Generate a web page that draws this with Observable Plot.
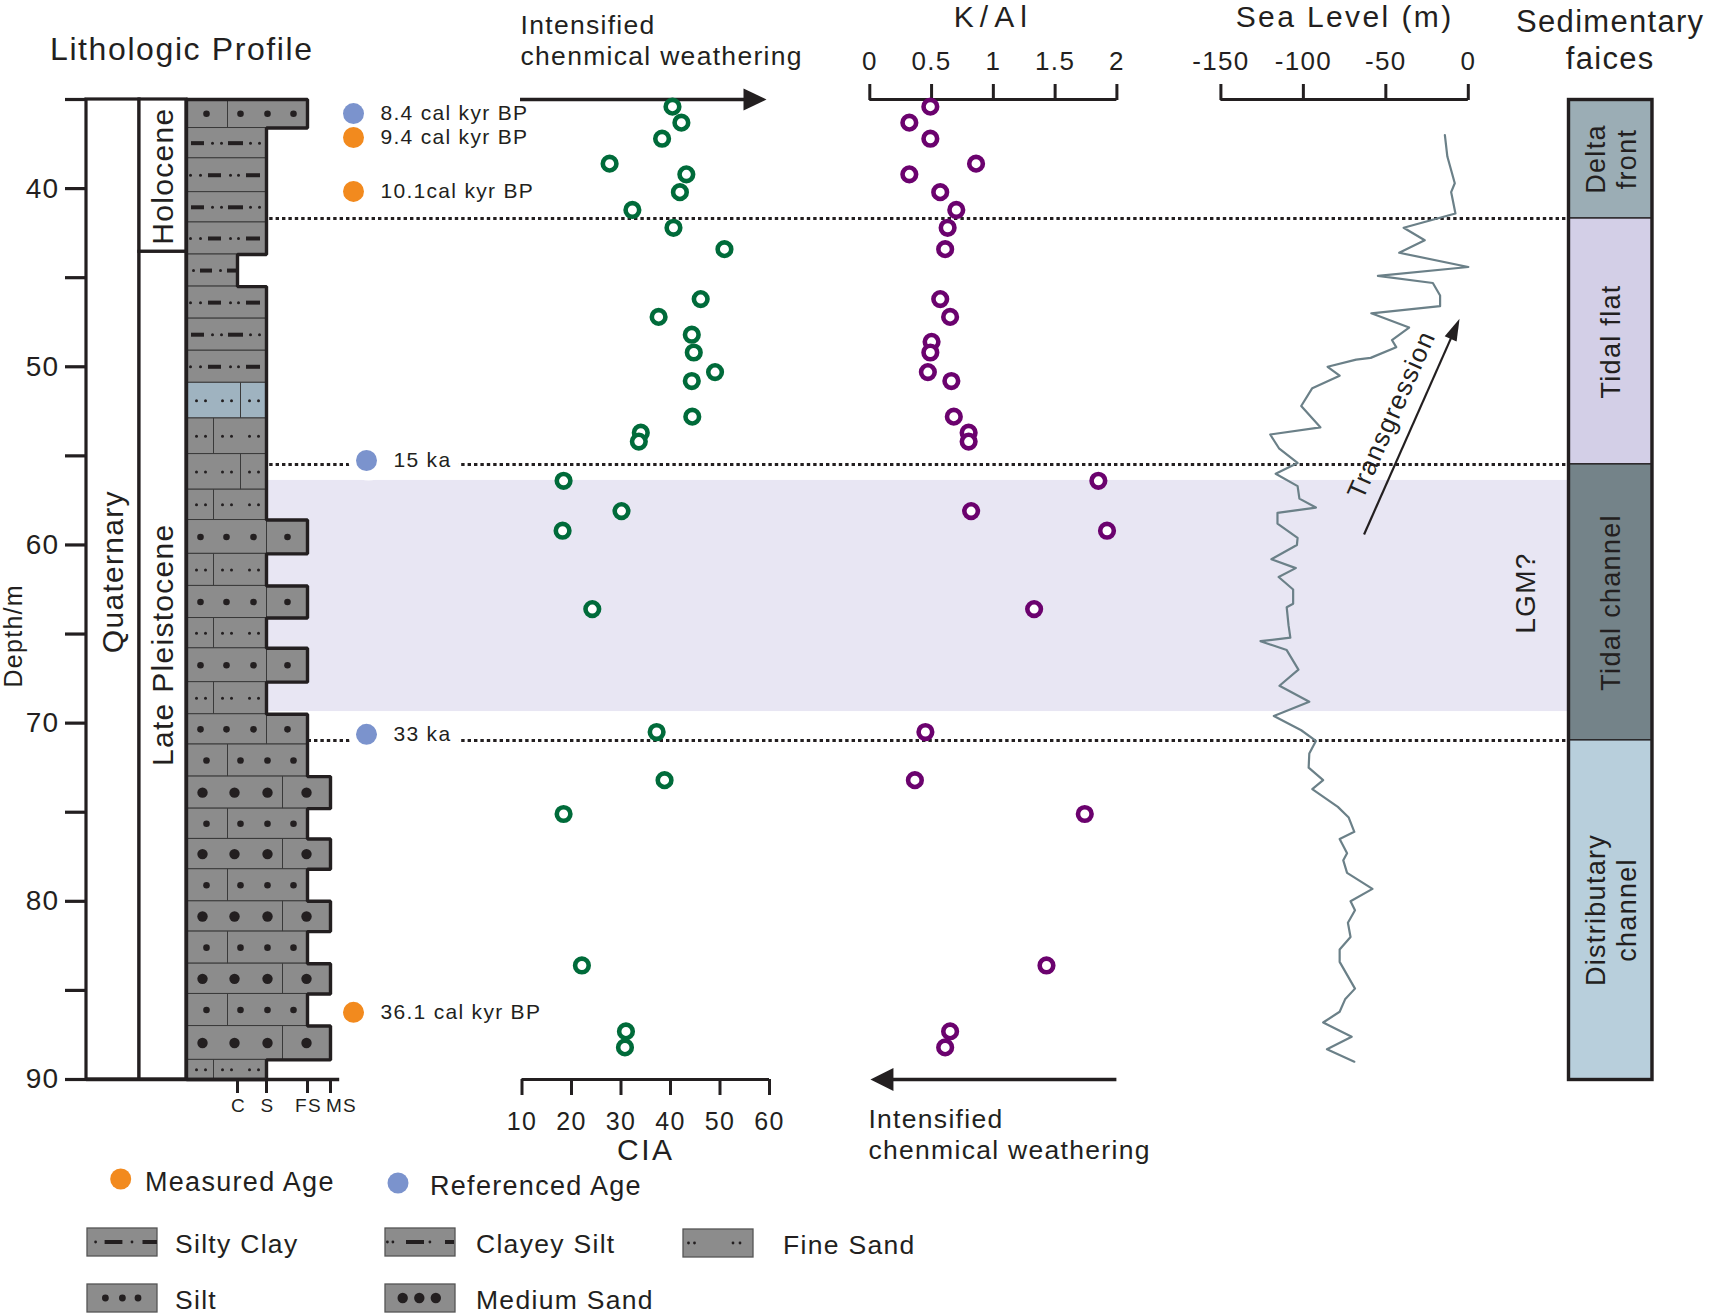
<!DOCTYPE html>
<html>
<head>
<meta charset="utf-8">
<script src="https://cdn.jsdelivr.net/npm/d3@7"></script>
<script src="https://cdn.jsdelivr.net/npm/@observablehq/plot@0.6"></script>
<style>
  html, body { margin: 0; padding: 0; background: #ffffff; }
  #root { position: relative; width: 1713px; height: 1314px; overflow: hidden; background: #ffffff; }
  #root svg { position: absolute; left: 0; top: 0; overflow: visible; max-width: none; }
  #root text { letter-spacing: 1.3px; }
</style>
</head>
<body>
<div id="root"></div>
<script>
// ======================= DATA =======================
const depthTicks = [35, 40, 45, 50, 55, 60, 65, 70, 75, 80, 85, 90];
const grainTicks = ["C", "S", "FS", "MS"];
const ciaTicks = [10, 20, 30, 40, 50, 60];
const kalTicks = [0, 0.5, 1, 1.5, 2];
const seaTicks = [-150, -100, -50, 0];

// stratigraphy
const systemName = ["Quaternary"];
const systemTop = [35];
const systemBottom = [90];
const systemLabelDepth = [61.5];
const epochName = ["Holocene", "Late Pleistocene"];
const epochTop = [35, 43.55];
const epochBottom = [43.55, 90];
const epochLabelDepth = [39.3, 65.6];

// lithologic layers
const layerTop = [35.0,36.6,38.3,40.2,41.9,43.7,45.5,47.3,49.1,50.9,52.9,54.9,56.9,58.6,60.5,62.3,64.1,65.8,67.7,69.5,71.2,73.0,74.8,76.5,78.2,80.0,81.7,83.5,85.2,87.0,88.9];
const layerBottom = [36.6,38.3,40.2,41.9,43.7,45.5,47.3,49.1,50.9,52.9,54.9,56.9,58.6,60.5,62.3,64.1,65.8,67.7,69.5,71.2,73.0,74.8,76.5,78.2,80.0,81.7,83.5,85.2,87.0,88.9,90.0];
const layerLith = ["Silt","Clayey Silt","Clayey Silt","Clayey Silt","Clayey Silt","Silty Clay","Clayey Silt","Clayey Silt","Clayey Silt",
  "Fine Sand","Fine Sand","Fine Sand","Fine Sand","Silt","Fine Sand","Silt","Fine Sand","Silt","Fine Sand","Silt",
  "Silt","Medium Sand","Silt","Medium Sand","Silt","Medium Sand","Silt","Medium Sand","Silt","Medium Sand","Fine Sand"];
const layerGrain = ["FS","S","S","S","S","C","S","S","S","S","S","S","S","FS","S","FS","S","FS","S","FS","FS","MS","FS","MS","FS","MS","FS","MS","FS","MS","S"];
const layerVariant = ["A","A","B","A","B","","B","A","B","A","B","A","B","B","B","B","B","B","B","B","A","","A","","A","","A","","A","","B"];
const layerTint = ["grey","grey","grey","grey","grey","grey","grey","grey","grey","blue","grey","grey","grey","grey","grey","grey","grey","grey","grey","grey",
  "grey","grey","grey","grey","grey","grey","grey","grey","grey","grey","grey"];

// ages
const ageDepth = [35.79, 37.13, 40.16, 55.26, 70.63, 86.23];
const ageLabel = ["8.4 cal kyr BP", "9.4 cal kyr BP", "10.1cal kyr BP", "15 ka", "33 ka", "36.1 cal kyr BP"];
const ageType = ["Referenced", "Measured", "Measured", "Referenced", "Referenced", "Measured"];

// unit boundaries (dotted) and LGM band
const unitBoundaries = [41.68, 55.48, 70.97];
const lgmBand = [56.38, 69.35];

// CIA
const ciaDepth = [35.4,36.3,37.2,38.6,39.2,40.2,41.2,42.2,43.4,46.2,47.2,48.2,49.2,50.3,50.8,52.8,53.7,54.2,56.4,58.1,59.2,63.6,70.5,73.2,75.1,83.6,87.3,88.2];
const ciaValue = [40.4,42.2,38.3,27.7,43.2,41.9,32.3,40.6,50.9,46.1,37.6,44.3,44.7,49.0,44.3,44.4,34.0,33.6,18.4,30.1,18.2,24.2,37.2,38.8,18.4,22.1,31.0,30.8];

// K/Al
const kalDepth = [35.4,36.3,37.2,38.6,39.2,40.2,41.2,42.2,43.4,46.2,47.2,48.6,49.2,50.3,50.8,52.8,53.7,54.2,56.4,58.1,59.2,63.6,70.5,73.2,75.1,83.6,87.3,88.2];
const kalValue = [0.49,0.32,0.49,0.86,0.32,0.57,0.70,0.63,0.61,0.57,0.65,0.50,0.49,0.47,0.66,0.68,0.80,0.80,1.85,0.82,1.92,1.33,0.45,0.365,1.74,1.43,0.65,0.61];

// Sea level
const seaDepth = [37.0,38.2,39.7,40.2,40.7,41.4,42.2,42.9,43.6,44.4,44.9,45.3,46.0,46.6,47.0,47.8,48.5,48.9,49.5,49.6,50.0,50.5,51.2,52.2,53.4,53.8,54.6,55.4,56.0,56.7,57.4,57.9,58.2,58.8,59.6,60.0,60.8,61.3,61.8,62.5,63.3,63.5,64.5,65.2,65.4,65.9,67.0,67.9,68.8,69.6,70.4,71.0,71.7,72.5,73.2,73.7,74.7,75.3,76.1,76.5,77.3,77.7,78.4,79.3,80.0,80.5,81.2,82.0,82.7,83.4,84.9,85.5,86.2,86.8,87.6,88.3,89.0];
const seaLevel = [-14.2,-12.7,-8.2,-10.4,-9.3,-7.8,-39.2,-26.4,-41.9,0,-54.8,-21.5,-17.1,-17.1,-58.8,-35.9,-46.3,-43.7,-59.2,-68.0,-85.3,-78.0,-94.6,-101.3,-89.7,-120.1,-114.6,-103.5,-116.8,-103.5,-102.4,-92.4,-115.7,-115.7,-103.5,-103.9,-119.4,-104.6,-115.0,-106.2,-106.2,-110.1,-109.0,-107.9,-126.0,-110.1,-103.0,-114.5,-96.4,-117.9,-101.3,-92.4,-96.4,-96.8,-88.0,-94.6,-79.1,-72.5,-69.1,-78.0,-73.5,-75.8,-73.5,-58.1,-71.4,-68.7,-73.0,-71.4,-78.0,-78.0,-68.7,-74.7,-78.0,-88.0,-70.7,-85.7,-69.1];

// Sedimentary facies
const faciesName = ["Delta front", "Tidal flat", "Tidal channel", "Distributary channel"];
const faciesLabel = ["Delta\nfront", "Tidal flat", "Tidal channel", "Distributary\nchannel"];
const faciesTop = [35, 41.68, 55.48, 70.97];
const faciesBottom = [41.68, 55.48, 70.97, 90];

// annotations (data units of their panel)
const weatheringText = "Intensified\nchenmical weathering";
const ciaArrow = [{from: 9.7, to: 59.4, depth: 35, label: weatheringText}];
const kalArrow = [{from: 2.0, to: 0.005, depth: 90, label: weatheringText}];
const transArrow = {x1: -63.2, y1: 59.41, x2: -5.3, y2: 47.31, label: "Transgression", lx: -46.5, ly: 52.7};
const lgmLabel = {text: "LGM?", depth: 62.7};
const depthLabel = {text: "Depth/m", depth: 65.1};

// ======================= STYLE =======================
const root = document.getElementById("root");
const ink = "#231f20";
const W = 1713, H = 1314;
const FONT = "'Liberation Sans', Arial, Helvetica, sans-serif";
const yOpt = {domain: [35, 90], range: [99, 1079]};
const colors = {
  litho: {grey: "#8c8c8c", blue: "#9fb3c0"},
  age: {Measured: "#f28a1e", Referenced: "#7b93cd"},
  facies: {"Delta front": "#9badb5", "Tidal flat": "#d3cfe7", "Tidal channel": "#748389", "Distributary channel": "#b8cfdc"},
  cia: "#006b3a", kal: "#6b026e", sea: "#6b8088", band: "#e8e6f3", seam: "#3a3a3a"
};
const gsValue = {C: 1, S: 2, FS: 3, MS: 4};
// column layout of the profile panel: unit index -> column width units
// (-2..-1 system column, -1..0 epoch column, 0..4 grain-size classes C, S, FS, MS)
const litLayout = d3.scaleLinear().domain([-2, -1, 0, 1, 2, 3, 4]).range([0, 53, 100, 151, 180, 221, 244]);
const litRange = [86, 330];
// lithology texture templates: pixel offsets from the column's left edge
const textures = {
  "Silt-A": {dividers: [41], small: [20, 54, 81, 107]},
  "Silt-B": {dividers: [80], small: [14, 40, 67, 101]},
  "Medium Sand": {dividers: [96], large: [16, 48, 81, 120]},
  "Fine Sand-A": {dividers: [54], tiny: [10, 19, 36, 45, 63, 72]},
  "Fine Sand-B": {dividers: [27], tiny: [10, 19, 36, 45, 63, 72]},
  "Clayey Silt-A": {dashes: [[5, 18], [42, 57]], tiny: [26, 35, 64, 73]},
  "Clayey Silt-B": {dashes: [[22, 35], [60, 74]], tiny: [4, 14, 44, 52]},
  "Silty Clay": {dashes: [[14, 26], [41, 51]], tiny: [7, 34]}
};

const headSymbol = (L, Wd) => ({draw(ctx) { ctx.moveTo(0, 0); ctx.lineTo(Wd / 2, L); ctx.lineTo(-Wd / 2, L); ctx.closePath(); }});

function mount(opts, spacing) {
  const svg = Plot.plot(Object.assign({
    width: W, height: H, marginTop: 99, marginBottom: 235,
    y: {...yOpt, axis: null},
    color: {type: "identity"},
    style: {fontFamily: FONT, color: ink, background: "transparent", overflow: "visible"}
  }, opts));
  svg.style.position = "absolute"; svg.style.left = "0px"; svg.style.top = "0px"; svg.style.maxWidth = "none";
  root.appendChild(svg);
  if (spacing) d3.select(svg).selectAll("text").each(function() {
    const s = spacing[this.textContent.replace(/\s+/g, " ").trim()];
    if (s !== undefined) this.style.letterSpacing = s + "px";
  });
  return svg;
}

// ======================= TABLES =======================
const layers = layerTop.map((t, i) => ({top: t, bottom: layerBottom[i], lith: layerLith[i], grain: layerGrain[i], variant: layerVariant[i], tint: layerTint[i]}));
const ages = ageDepth.map((d, i) => ({depth: d, label: ageLabel[i], type: ageType[i]}));
ages.forEach(a => a.onLine = unitBoundaries.some(b => Math.abs(b - a.depth) < 0.5));
const ciaPts = ciaDepth.map((d, i) => ({d, v: ciaValue[i]}));
const kalPts = kalDepth.map((d, i) => ({d, v: kalValue[i]}));
const seaPts = seaDepth.map((d, i) => ({d, v: seaLevel[i]}));
const facies = faciesName.map((n, i) => ({name: n, label: faciesLabel[i], top: faciesTop[i], bottom: faciesBottom[i]}));
const systems = systemName.map((n, i) => ({name: n, top: systemTop[i], bottom: systemBottom[i], label: systemLabelDepth[i]}));
const epochs = epochName.map((n, i) => ({name: n, top: epochTop[i], bottom: epochBottom[i], label: epochLabelDepth[i]}));

// ======================= PANEL: background (band, dotted boundaries, ages) =======================
mount({
  marginLeft: 186, marginRight: W - 1568,
  marks: [
    Plot.rect([lgmBand], {y1: d => d[0], y2: d => d[1], fill: colors.band}),
    Plot.ruleY(unitBoundaries, {stroke: ink, strokeWidth: 3, strokeDasharray: "3.4 3"}),
    Plot.text([lgmLabel], {frameAnchor: "right", y: "depth", text: "text", dx: -42, rotate: -90, textAnchor: "middle", lineAnchor: "middle", fontSize: 28, fill: ink}),
    Plot.dot(ages.filter(a => a.onLine), {y: "depth", frameAnchor: "left", dx: 182, r: 20, fill: "white"}),
    Plot.dot(ages.filter(a => a.onLine), {y: "depth", frameAnchor: "left", dx: 180, r: 10.5, fill: d => colors.age[d.type]}),
    Plot.dot(ages.filter(a => !a.onLine), {y: "depth", frameAnchor: "left", dx: 167, r: 10.5, fill: d => colors.age[d.type]}),
    Plot.text(ages.filter(a => a.onLine), {y: "depth", frameAnchor: "left", dx: 207, text: "label", textAnchor: "start", lineAnchor: "middle", fontSize: 21, fill: ink, stroke: "white", strokeWidth: 18, paintOrder: "stroke", strokeLinejoin: "round"}),
    Plot.text(ages.filter(a => !a.onLine), {y: "depth", frameAnchor: "left", dx: 194, text: "label", textAnchor: "start", lineAnchor: "middle", fontSize: 21, fill: ink})
  ]
});

// ======================= PANEL: lithologic profile =======================
const xMirror = d3.scaleLinear().domain([0, 244]).range(litRange);
const x0px = xMirror(litLayout(0));
const tx = off => litLayout.invert(xMirror.invert(x0px + off));   // texture offset -> unit index

const dividers = [], dashes = [], dotsTiny = [], dotsSmall = [], dotsLarge = [];
layers.forEach(l => {
  const tpl = textures[l.variant ? `${l.lith}-${l.variant}` : l.lith];
  const mid = (l.top + l.bottom) / 2;
  (tpl.dividers || []).forEach(o => dividers.push({x: tx(o), y1: l.top, y2: l.bottom}));
  (tpl.dashes || []).forEach(([a, b]) => dashes.push({x1: tx(a), x2: tx(b), y: mid}));
  (tpl.tiny || []).forEach(o => dotsTiny.push({x: tx(o), y: mid}));
  (tpl.small || []).forEach(o => dotsSmall.push({x: tx(o), y: mid}));
  (tpl.large || []).forEach(o => dotsLarge.push({x: tx(o), y: mid}));
});
const outline = [{x: 0, y: layers[0].top}];
layers.forEach(l => { outline.push({x: gsValue[l.grain], y: l.top}, {x: gsValue[l.grain], y: l.bottom}); });
outline.push({x: 0, y: 90}, {x: 0, y: layers[0].top});

mount({
  marginLeft: 86, marginRight: W - 330,
  x: {domain: [0, 244], range: litRange, transform: litLayout, axis: null},
  marks: [
    Plot.rect(systems, {x1: -2, x2: -1, y1: "top", y2: "bottom", fill: "white", stroke: ink, strokeWidth: 3.2}),
    Plot.rect(epochs, {x1: -1, x2: 0, y1: "top", y2: "bottom", fill: "white", stroke: ink, strokeWidth: 3.2}),
    Plot.text(systems, {x: -1.5, y: "label", text: "name", rotate: -90, fontSize: 30, fill: ink}),
    Plot.text(epochs, {x: -0.5, y: "label", text: "name", rotate: -90, fontSize: 30, fill: ink}),
    Plot.rect(layers, {x1: 0, x2: d => gsValue[d.grain], y1: "top", y2: "bottom", fill: d => colors.litho[d.tint], stroke: colors.seam, strokeWidth: 1}),
    Plot.ruleX(dividers, {x: "x", y1: "y1", y2: "y2", stroke: colors.seam, strokeWidth: 1}),
    Plot.ruleY(dashes, {x1: "x1", x2: "x2", y: "y", stroke: ink, strokeWidth: 4}),
    Plot.dot(dotsTiny, {x: "x", y: "y", r: 1.5, fill: ink, stroke: "none"}),
    Plot.dot(dotsSmall, {x: "x", y: "y", r: 3.3, fill: ink, stroke: "none"}),
    Plot.dot(dotsLarge, {x: "x", y: "y", r: 5.2, fill: ink, stroke: "none"}),
    Plot.line(outline, {x: "x", y: "y", stroke: ink, strokeWidth: 3.4, strokeLinejoin: "miter"}),
    Plot.ruleY([90], {x1: -2, x2: 4.4, stroke: ink, strokeWidth: 3.4}),
    Plot.axisY({anchor: "left", ticks: depthTicks, tickSize: 21, tickPadding: 6, strokeWidth: 3.2, fontSize: 28,
      tickFormat: d => d % 10 === 0 ? String(d) : "", label: null}),
    // axis ticks are given in the scale's (transformed) column units
    Plot.axisX({anchor: "bottom", ticks: grainTicks.map(g => litLayout(gsValue[g])), tickSize: 14, strokeWidth: 3, tickFormat: () => "", label: null}),
    Plot.text(grainTicks.filter(g => g !== "MS"), {x: g => gsValue[g], text: g => g, frameAnchor: "bottom", lineAnchor: "middle", dy: 26, dx: 1, fontSize: 19, fill: ink}),
    Plot.text(grainTicks.filter(g => g === "MS"), {x: g => gsValue[g], text: g => g, frameAnchor: "bottom", lineAnchor: "middle", dy: 26, dx: 11, fontSize: 19, fill: ink}),
    Plot.text([depthLabel], {frameAnchor: "left", y: "depth", text: "text", dx: -73, rotate: -90, textAnchor: "middle", lineAnchor: "middle", fontSize: 25, fill: ink}),
    Plot.text(["Lithologic Profile"], {x: -0.1, frameAnchor: "top", lineAnchor: "middle", dy: -50, fontSize: 32, fill: ink})
  ]
}, {"Lithologic Profile": 1.6});

// ======================= PANEL: CIA =======================
mount({
  marginLeft: 521.5, marginRight: W - 769,
  x: {domain: [10, 60], range: [521.5, 769], axis: null},
  marks: [
    Plot.ruleY([90], {stroke: ink, strokeWidth: 3.2}),
    Plot.axisX({anchor: "bottom", ticks: ciaTicks, tickSize: 16, tickPadding: 17, strokeWidth: 3, fontSize: 25, tickFormat: d => String(d), label: null}),
    Plot.text(["CIA"], {frameAnchor: "bottom", lineAnchor: "middle", dy: 71, fontSize: 30, fill: ink}),
    Plot.ruleY(ciaArrow, {y: "depth", x1: "from", x2: d => d.to - 3, stroke: ink, strokeWidth: 3.6}),
    Plot.dot(ciaArrow, {x: "to", y: "depth", symbol: headSymbol(23, 22), rotate: 90, fill: ink, stroke: "none"}),
    Plot.text(ciaArrow, {x: "from", y: "depth", text: "label", textAnchor: "start", lineAnchor: "middle", dy: -60, fontSize: 26.5, lineHeight: 1.19, fill: ink}),
    Plot.dot(ciaPts, {x: "v", y: "d", r: 6.8, stroke: colors.cia, strokeWidth: 4.6, fill: "white"})
  ]
}, {"CIA": 2.5, "Intensified chenmical weathering": 1.8});

// ======================= PANEL: K/Al =======================
mount({
  marginLeft: 869.3, marginRight: W - 1116.4,
  x: {domain: [0, 2], range: [869.3, 1116.4], axis: null},
  marks: [
    Plot.ruleY([35], {stroke: ink, strokeWidth: 3.2}),
    Plot.axisX({anchor: "top", ticks: kalTicks, tickSize: 16, tickPadding: 14, strokeWidth: 3, fontSize: 26, tickFormat: d => String(d), label: null}),
    Plot.text(["K/Al"], {frameAnchor: "top", lineAnchor: "middle", dy: -82, fontSize: 30, fill: ink}),
    Plot.ruleY(kalArrow, {y: "depth", x1: "from", x2: d => d.to + 0.12, stroke: ink, strokeWidth: 3.6}),
    Plot.dot(kalArrow, {x: "to", y: "depth", symbol: headSymbol(23, 23), rotate: -90, fill: ink, stroke: "none"}),
    Plot.text(kalArrow, {x: "to", y: "depth", text: "label", textAnchor: "start", lineAnchor: "middle", dx: -2, dy: 54, fontSize: 26.5, lineHeight: 1.19, fill: ink}),
    Plot.dot(kalPts, {x: "v", y: "d", r: 6.8, stroke: colors.kal, strokeWidth: 4.6, fill: "white"})
  ]
}, {"K/Al": 6, "Intensified chenmical weathering": 1.8});

// ======================= PANEL: Sea level =======================
const seaX = {domain: [-150, 0], range: [1220.4, 1467.8]};
const sx = d3.scaleLinear().domain(seaX.domain).range(seaX.range);   // mirror of the panel's scales
const sy = d3.scaleLinear().domain(yOpt.domain).range(yOpt.range);
const pdx = sx(transArrow.x2) - sx(transArrow.x1);
const pdy = sy(transArrow.y2) - sy(transArrow.y1);
const plen = Math.hypot(pdx, pdy);
const headAngle = Math.atan2(pdx, -pdy) * 180 / Math.PI;
const textAngle = Math.atan2(pdy, pdx) * 180 / Math.PI;
const transShaft = [{
  x1: transArrow.x1, y1: transArrow.y1,
  x2: sx.invert(sx(transArrow.x2) - pdx / plen * 14),
  y2: sy.invert(sy(transArrow.y2) - pdy / plen * 14)
}];
mount({
  marginLeft: 1220.4, marginRight: W - 1467.8,
  x: {...seaX, axis: null},
  marks: [
    Plot.ruleY([35], {stroke: ink, strokeWidth: 3.2}),
    Plot.axisX({anchor: "top", ticks: seaTicks, tickSize: 16, tickPadding: 14, strokeWidth: 3, fontSize: 26, tickFormat: d => String(d), label: null}),
    Plot.text(["Sea Level (m)"], {frameAnchor: "top", lineAnchor: "middle", dy: -82, fontSize: 30, fill: ink}),
    Plot.line(seaPts, {x: "v", y: "d", stroke: colors.sea, strokeWidth: 2.2}),
    Plot.link(transShaft, {x1: "x1", y1: "y1", x2: "x2", y2: "y2", stroke: ink, strokeWidth: 2.2}),
    Plot.dot([transArrow], {x: "x2", y: "y2", symbol: headSymbol(22, 13), rotate: headAngle, fill: ink, stroke: "none"}),
    Plot.text([transArrow], {x: "lx", y: "ly", text: "label", rotate: textAngle, fontSize: 26, fill: ink})
  ]
}, {"Sea Level (m)": 2.4});

// ======================= PANEL: Sedimentary facies =======================
mount({
  marginLeft: 1568, marginRight: W - 1651.5,
  x: {domain: [0, 1], range: [1568, 1651.5], axis: null},
  marks: [
    Plot.rect(facies, {x1: 0, x2: 1, y1: "top", y2: "bottom", fill: d => colors.facies[d.name], stroke: ink, strokeWidth: 1.3}),
    Plot.frame({stroke: ink, strokeWidth: 3.4}),
    Plot.text(facies, {x: 0.5, y: d => (d.top + d.bottom) / 2, text: "label", rotate: -90, fontSize: 27, lineHeight: 1.15, fill: ink}),
    Plot.text(["Sedimentary\nfaices"], {frameAnchor: "top", lineAnchor: "middle", dy: -61, fontSize: 31, lineHeight: 1.2, fill: ink})
  ]
}, {"Sedimentary faices": 2.2});

// ======================= LEGEND =======================
const leg = d3.select(root).append("svg").attr("width", W).attr("height", H).style("font-family", FONT);
const ageLegend = [
  {type: "Measured", label: "Measured Age", cx: 120.7, cy: 1179, tx: 145},
  {type: "Referenced", label: "Referenced Age", cx: 398, cy: 1183, tx: 430}
];
ageLegend.forEach(a => {
  leg.append("circle").attr("cx", a.cx).attr("cy", a.cy).attr("r", 10.5).attr("fill", colors.age[a.type]);
  leg.append("text").attr("x", a.tx).attr("y", a.cy + 3).attr("dominant-baseline", "central").attr("font-size", 27).attr("fill", ink).text(a.label);
});
const swatchGlyphs = {
  "Silty Clay": {tiny: [8.6, 45], dashes: [[17.6, 35.4], [55.5, 70]]},
  "Clayey Silt": {tiny: [2.4, 7.9, 44.9], dashes: [[21, 39], [60, 69]]},
  "Fine Sand": {tiny: [5.5, 11.5, 50, 57]},
  "Silt": {small: [18.4, 35.4, 51]},
  "Medium Sand": {large: [17.7, 34.3, 50.8]}
};
const lithLegend = [
  {name: "Silty Clay", x: 87, y: 1228, tx: 175},
  {name: "Clayey Silt", x: 385, y: 1228, tx: 476},
  {name: "Fine Sand", x: 683, y: 1229, tx: 783},
  {name: "Silt", x: 87, y: 1284, tx: 175},
  {name: "Medium Sand", x: 385, y: 1284, tx: 476}
];
lithLegend.forEach(it => {
  const g = leg.append("g").attr("transform", `translate(${it.x},${it.y})`);
  g.append("rect").attr("width", 70).attr("height", 28).attr("fill", colors.litho.grey).attr("stroke", "#555").attr("stroke-width", 1.3);
  const sg = swatchGlyphs[it.name];
  (sg.dashes || []).forEach(([a, b]) => g.append("line").attr("x1", a).attr("x2", b).attr("y1", 14).attr("y2", 14).attr("stroke", ink).attr("stroke-width", 4));
  (sg.tiny || []).forEach(o => g.append("circle").attr("cx", o).attr("cy", 14).attr("r", 1.4).attr("fill", ink));
  (sg.small || []).forEach(o => g.append("circle").attr("cx", o).attr("cy", 14).attr("r", 3.4).attr("fill", ink));
  (sg.large || []).forEach(o => g.append("circle").attr("cx", o).attr("cy", 14).attr("r", 5.2).attr("fill", ink));
  leg.append("text").attr("x", it.tx).attr("y", it.y + 16).attr("dominant-baseline", "central").attr("font-size", 26.5).attr("fill", ink).text(it.name);
});
</script>
</body>
</html>
